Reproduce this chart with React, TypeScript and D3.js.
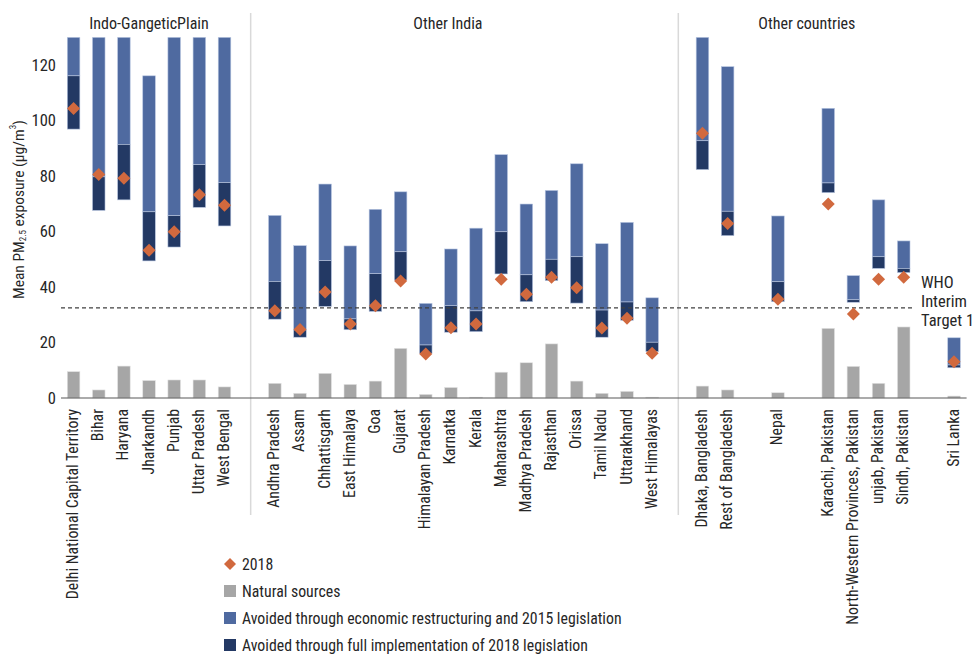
import React from "react";
import * as d3 from "d3";

// ---- data (blank strings are empty spacer slots) ----
const categories = [
  "Delhi National Capital Territory", "Bihar", "Haryana", "Jharkandh", "Punjab", "Uttar Pradesh", "West Bengal",
  "",
  "Andhra Pradesh", "Assam", "Chhattisgarh", "East Himalaya", "Goa", "Gujarat", "Himalayan Pradesh", "Karnatka",
  "Kerala", "Maharashtra", "Madhya Pradesh", "Rajasthan", "Orissa", "Tamil Nadu", "Uttarakhand", "West Himalayas",
  "",
  "Dhaka, Bangladesh", "Rest of Bangladesh", "", "Nepal", "", "Karachi, Pakistan",
  "North-Western Provinces, Pakistan", "unjab, Pakistan", "Sindh, Pakistan", "", "Sri Lanka",
];
const naturalSources = [9.5, 2.9, 11.5, 6.3, 6.5, 6.5, 4.0, null, 5.3, 1.7, 8.9, 4.9, 6.1, 17.9, 1.3, 3.8, 0.3, 9.3, 12.7, 19.5, 6.1, 1.7, 2.4, 0.3, null, 4.3, 2.9, null, 1.9, null, 25.1, 11.4, 5.3, 25.6, null, 0.7];
// bottom of the avoided-through-2018-legislation segment
const fullImplLow = [96.9, 67.6, 71.4, 49.4, 54.4, 68.7, 62.0, null, 28.4, 21.9, 33.0, 24.6, 31.2, 42.5, 16.1, 23.7, 23.9, 44.7, 34.7, 42.3, 34.2, 21.9, 28.0, 16.7, null, 82.3, 58.5, null, 34.7, null, 74.0, 34.5, 46.7, 45.2, null, 10.9];
// boundary between the two avoided segments
const restructMid = [116.1, 79.7, 91.4, 67.1, 65.7, 84.1, 77.6, null, 42.0, 24.5, 49.5, 28.5, 44.8, 52.7, 19.1, 33.3, 31.4, 59.9, 44.4, 50.0, 50.9, 31.7, 34.6, 20.1, null, 92.7, 67.3, null, 41.9, null, 77.5, 35.4, 50.9, 46.7, null, 11.9];
// top of the restructuring segment (130 = beyond the axis)
const restructHigh = [130, 130, 130, 116.1, 130, 130, 130, null, 65.8, 54.9, 77.1, 54.8, 68.0, 74.3, 34.1, 53.7, 61.2, 87.7, 69.9, 74.8, 84.4, 55.6, 63.3, 36.1, null, 130, 119.4, null, 65.6, null, 104.4, 44.1, 71.4, 56.6, null, 21.7];
const value2018 = [104.3, 80.5, 79.2, 53.2, 59.9, 73.2, 69.5, null, 31.4, 24.7, 38.2, 26.7, 33.2, 42.2, 15.9, 25.3, 26.7, 42.8, 37.4, 43.5, 39.7, 25.2, 28.7, 16.1, null, 95.4, 62.9, null, 35.6, null, 69.9, 30.3, 42.8, 43.5, null, 13.1];
const yTicks = [0, 20, 40, 60, 80, 100, 120];
const whoTarget = 32.5;
const groupLabels = ["Indo-GangeticPlain", "Other India", "Other countries"];
const legendLabels = [
  "2018",
  "Natural sources",
  "Avoided through economic restructuring and 2015 legislation",
  "Avoided through full implementation of 2018 legislation",
];

const FONT = "'Liberation Sans Narrow', 'Roboto Condensed', 'DejaVu Sans Condensed', Roboto, sans-serif";
const C_LIGHT = "#4F6AA0";
const C_DARK = "#233964";
const C_GRAY = "#A6A6A6";
const C_ORANGE = "#D1693E";
const TEXT = "#262626";

export default function App() {
  const W = 973, H = 654;
  const left = 61, right = 966.6, y0 = 398, yTop = 37.25;
  const keys = categories.map((_, i) => String(i));
  const x = d3.scaleBand<string>().domain(keys).range([left, right]).paddingInner(0.5).paddingOuter(0.25);
  const y = d3.scaleLinear().domain([0, 130]).range([y0, yTop]);
  const bw = x.bandwidth();
  const cx = (i: number) => (x(String(i)) as number) + bw / 2;
  const step = x.step();
  const sepIdx = categories.map((c, i) => (c === "" && (i === 7 || i === 24) ? i : -1)).filter((i) => i >= 0);
  const diamond = (px: number, py: number, r: number) => `M${px},${py - r}L${px + r},${py}L${px},${py + r}L${px - r},${py}Z`;

  const groupX = [cx(3), cx(15) - 3, cx(30) - step * 0.85];

  return (
    <div style={{ position: "absolute", left: 0, top: 0 }}>
      <svg width={W} height={H} style={{ display: "block", fontFamily: FONT }}>
        <rect width={W} height={H} fill="#fff" />
        <defs>
          <clipPath id="plotclip">
            <rect x={0} y={yTop} width={W} height={y0 - yTop + 1} />
          </clipPath>
        </defs>
        {/* separators */}
        {sepIdx.map((i) => (
          <line key={"s" + i} x1={cx(i) + 1} x2={cx(i) + 1} y1={13} y2={515} stroke="#D9D9D9" strokeWidth={1.5} />
        ))}
        {/* group labels */}
        {groupLabels.map((g, i) => (
          <text key={g} x={groupX[i]} y={29} textAnchor="middle" fontSize={16} fill={TEXT}>{g}</text>
        ))}
        {/* natural sources */}
        {categories.map((c, i) =>
          naturalSources[i] == null ? null : (
            <rect key={"n" + i} x={x(String(i))} y={y(naturalSources[i] as number)} width={bw}
              height={y0 - y(naturalSources[i] as number)} fill={C_GRAY} stroke="#E3E3E3" strokeWidth={0.6} />
          )
        )}
        <g clipPath="url(#plotclip)">
          {categories.map((c, i) =>
            restructHigh[i] == null ? null : (
              <g key={"b" + i}>
                <rect x={x(String(i))} y={y(restructHigh[i] as number)} width={bw}
                  height={y(restructMid[i] as number) - y(restructHigh[i] as number)} fill={C_LIGHT} stroke="#B9C7E2" strokeWidth={0.6} />
                <rect x={x(String(i))} y={y(restructMid[i] as number)} width={bw}
                  height={y(fullImplLow[i] as number) - y(restructMid[i] as number)} fill={C_DARK} stroke="#B9C7E2" strokeWidth={0.6} />
              </g>
            )
          )}
        </g>
        {/* axis baseline */}
        <line x1={left} x2={right} y1={y0} y2={y0} stroke="#595959" strokeWidth={1.2} />
        {/* WHO line */}
        <line x1={left} x2={915} y1={y(whoTarget)} y2={y(whoTarget)} stroke="#404040" strokeWidth={1.2} strokeDasharray="4,3" />
        <text x={921} y={y(whoTarget)} fontSize={16.5} fill={TEXT}>
          <tspan x={921} dy={-20}>WHO</tspan>
          <tspan x={921} dy={19}>Interim</tspan>
          <tspan x={921} dy={19}>Target 1</tspan>
        </text>
        {/* 2018 diamonds */}
        {categories.map((c, i) =>
          value2018[i] == null ? null : (
            <path key={"d" + i} d={diamond(cx(i), y(value2018[i] as number), 6.5)} fill={C_ORANGE} />
          )
        )}
        {/* y ticks */}
        {yTicks.map((t) => (
          <text key={"t" + t} x={56} y={y(t)} textAnchor="end" dominantBaseline="central" fontSize={16.5} fill={TEXT}>{t}</text>
        ))}
        {/* y title */}
        <text transform={`translate(19,${(y(0) + y(120)) / 2 - 22}) rotate(-90)`} textAnchor="middle" dominantBaseline="central" fontSize={15.5} fill={TEXT}>
          Mean PM<tspan fontSize={9} dy={4}>2.5</tspan><tspan dy={-4}> exposure (µg/m</tspan><tspan fontSize={9} dy={-6}>3</tspan><tspan dy={6}>)</tspan>
        </text>
        {/* category labels */}
        {categories.map((c, i) =>
          c === "" ? null : (
            <text key={"c" + i} transform={`translate(${cx(i) - 1},409) rotate(-90)`} textAnchor="end" dominantBaseline="central" fontSize={15.8} fill={TEXT}>{c}</text>
          )
        )}
        {/* legend */}
        {legendLabels.map((l, i) => {
          const ly = 564 + i * 27;
          return (
            <g key={"l" + i}>
              {i === 0 ? (
                <path d={diamond(230, ly, 6)} fill={C_ORANGE} />
              ) : (
                <rect x={224} y={ly - 6} width={12} height={12} fill={[C_GRAY, C_LIGHT, C_DARK][i - 1]} />
              )}
              <text x={242} y={ly} dominantBaseline="central" fontSize={15.8} fill={TEXT}>{l}</text>
            </g>
          );
        })}
      </svg>
    </div>
  );
}
